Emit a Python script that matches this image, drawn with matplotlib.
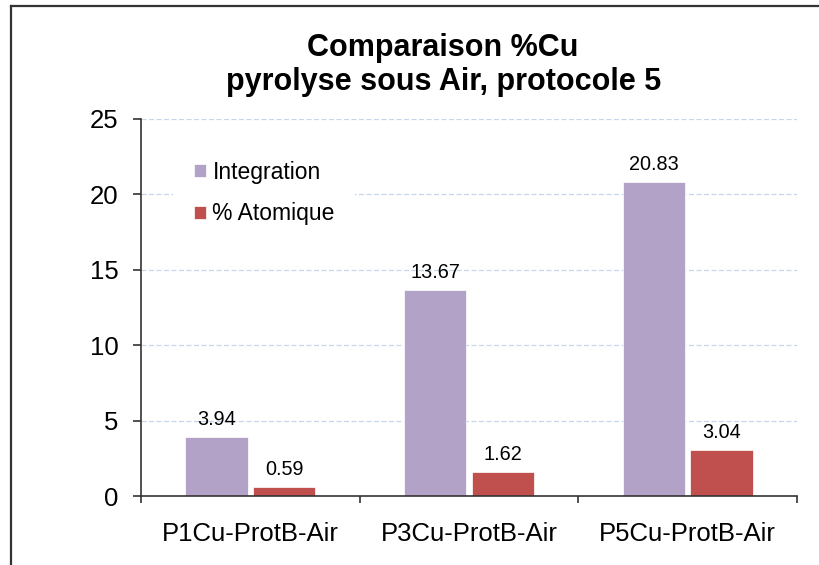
import matplotlib
matplotlib.use("Agg")
import matplotlib.pyplot as plt
import numpy as np
from matplotlib.lines import Line2D

plt.rcParams["font.family"] = ["Liberation Sans", "DejaVu Sans"]

# data
categories = ["P1Cu-ProtB-Air", "P3Cu-ProtB-Air", "P5Cu-ProtB-Air"]
integration = [3.94, 13.67, 20.83]
atomique = [0.59, 1.62, 3.04]
series_names = ["Integration", "% Atomique"]
yticks = [0, 5, 10, 15, 20, 25]

COL_INT = "#b2a2c7"
COL_AT = "#c0504d"
AXIS_COL = "#333333"

fig = plt.figure(figsize=(8.19, 5.65), dpi=100)
ax = fig.add_axes([141 / 819, 1 - 496 / 565, 656 / 819, 377 / 565])

x = np.arange(len(categories))
w = 0.285
off = 0.155
b1 = ax.bar(x - off, integration, w, color=COL_INT, edgecolor="white", linewidth=0.5,
            label=series_names[0], zorder=2)
b2 = ax.bar(x + off, atomique, w, color=COL_AT, edgecolor="white", linewidth=0.5,
            label=series_names[1], zorder=2)

# value labels above each bar
for bars, vals in ((b1, integration), (b2, atomique)):
    for rect, v in zip(bars, vals):
        ax.annotate(f"{v:.2f}", (rect.get_x() + rect.get_width() / 2, v),
                    xytext=(0, 8.5), textcoords="offset points",
                    ha="center", va="baseline", fontsize=14.3, color="black", zorder=4)

ax.set_xlim(-0.5, len(categories) - 0.5)
ax.set_ylim(0, 25)
ax.set_yticks(yticks)
ax.yaxis.grid(True, linestyle=(0, (4, 2)), color="#c5d5ea", linewidth=0.9, zorder=0)
ax.set_axisbelow(True)

for s in ("top", "right"):
    ax.spines[s].set_visible(False)
for s in ("left", "bottom"):
    ax.spines[s].set_color(AXIS_COL)
    ax.spines[s].set_linewidth(1.2)

ax.tick_params(axis="y", direction="out", length=6, width=1.2, color=AXIS_COL,
               labelsize=18.5, pad=10)
ax.set_xticks(x)
ax.set_xticklabels(categories)
ax.set_xticks(np.arange(-0.5, len(categories)), minor=True)
ax.tick_params(axis="x", which="major", length=0, labelsize=18.5, pad=19)
ax.tick_params(axis="x", which="minor", direction="out", length=5, width=1.2,
               color=AXIS_COL)

leg = ax.legend(loc="upper left", bbox_to_anchor=(173 / 819, 1 - 140 / 565),
                bbox_transform=fig.transFigure, fontsize=16.5, frameon=True,
                handlelength=0.52, handleheight=0.52, handletextpad=0.3,
                labelspacing=0.82, borderpad=0.9, borderaxespad=0)
leg.get_frame().set_facecolor("white")
leg.get_frame().set_edgecolor("none")
leg.get_frame().set_alpha(1)

# title, two lines
fig.text(443 / 819, 1 - 56 / 565, "Comparaison %Cu", ha="center", va="baseline",
         fontsize=22, fontweight="bold")
fig.text(444 / 819, 1 - 90 / 565, "pyrolyse sous Air, protocole 5", ha="center",
         va="baseline", fontsize=22, fontweight="bold")

# outer chart frame
fig.add_artist(Line2D([11 / 819, 11 / 819], [1 - 6 / 565, -0.01], transform=fig.transFigure,
                      color="#333333", linewidth=1.6))
fig.add_artist(Line2D([11 / 819, 1.01], [1 - 6 / 565, 1 - 6 / 565], transform=fig.transFigure,
                      color="#333333", linewidth=1.6))

fig.savefig("out.png", dpi=100)
